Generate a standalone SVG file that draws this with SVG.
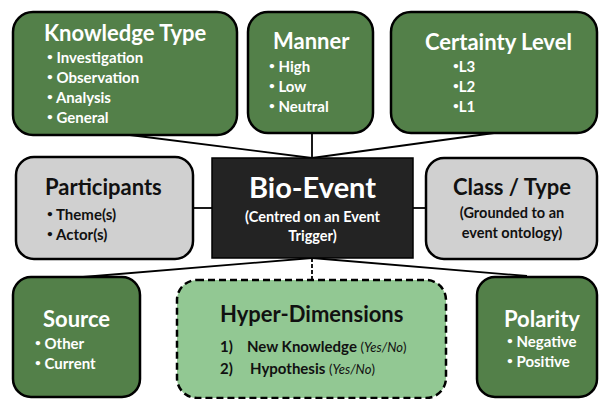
<svg xmlns="http://www.w3.org/2000/svg" width="599" height="399" viewBox="0 0 599 399">
<style>
.dg{fill:#538049;stroke:#000;stroke-width:2.5}
.gr{fill:#d0d0d0;stroke:#000;stroke-width:2.5}
.lg{fill:#92c893;stroke:#000;stroke-width:2.5;stroke-dasharray:7 4}
.bk{fill:#232323;stroke:#000;stroke-width:1.5}
text{font-family:Lato,"Open Sans","Liberation Sans",sans-serif;font-weight:bold}
.w{fill:#fff}
.k{fill:#111}
.t{font-size:22px}
.b{font-size:15px}
.c{font-size:14.5px}
.d{font-size:10px;baseline-shift:3px}
.p{font-size:13px;font-weight:normal}
.i{font-style:italic}
.ln{stroke:#000;stroke-width:1.8;fill:none}
</style>
<g id="connectors">
<line class="ln" x1="130" y1="135" x2="312" y2="158"/>
<line class="ln" x1="312" y1="133" x2="312" y2="158"/>
<line class="ln" x1="494" y1="133" x2="312" y2="158"/>
<line class="ln" x1="193" y1="208" x2="212" y2="208"/>
<line class="ln" x1="413" y1="208" x2="426" y2="208"/>
<line class="ln" x1="312" y1="258" x2="83" y2="277"/>
<line class="ln" x1="312" y1="258" x2="527" y2="276"/>
<line class="ln" x1="312" y1="258" x2="312" y2="280" stroke-dasharray="4 2"/>
</g>
<g id="knowledge-type">
<rect class="dg" x="13" y="12" width="224" height="123" rx="20"/>
<text class="w t" x="44" y="41">Knowledge Type</text>
<text class="w b" x="47" y="63"><tspan class="d">•</tspan> Investigation</text>
<text class="w b" x="47" y="83"><tspan class="d">•</tspan> Observation</text>
<text class="w b" x="47" y="103"><tspan class="d">•</tspan> Analysis</text>
<text class="w b" x="47" y="123"><tspan class="d">•</tspan> General</text>
</g>
<g id="manner">
<rect class="dg" x="248" y="12" width="125" height="121" rx="20"/>
<text class="w t" x="273" y="49">Manner</text>
<text class="w b" x="269" y="72"><tspan class="d">•</tspan> High</text>
<text class="w b" x="269" y="92"><tspan class="d">•</tspan> Low</text>
<text class="w b" x="269" y="112"><tspan class="d">•</tspan> Neutral</text>
</g>
<g id="certainty-level">
<rect class="dg" x="391" y="12" width="206" height="121" rx="20"/>
<text class="w t" x="425" y="50">Certainty Level</text>
<text class="w b" x="453" y="72"><tspan class="d">•</tspan>L3</text>
<text class="w b" x="453" y="92"><tspan class="d">•</tspan>L2</text>
<text class="w b" x="453" y="112"><tspan class="d">•</tspan>L1</text>
</g>
<g id="participants">
<rect class="gr" x="16" y="157" width="177" height="102" rx="18"/>
<text class="k t" x="45" y="195">Participants</text>
<text class="k b" x="47" y="220"><tspan class="d">•</tspan> Theme(s)</text>
<text class="k b" x="47" y="240"><tspan class="d">•</tspan> Actor(s)</text>
</g>
<g id="bio-event">
<rect class="bk" x="212" y="158" width="201" height="100"/>
<text class="w" x="312.5" y="198" text-anchor="middle" font-size="29">Bio-Event</text>
<text class="w c" x="312.5" y="222" text-anchor="middle">(Centred on an Event</text>
<text class="w c" x="312.5" y="241" text-anchor="middle">Trigger)</text>
</g>
<g id="class-type">
<rect class="gr" x="426" y="158" width="171" height="101" rx="18"/>
<text class="k t" x="512" y="195" text-anchor="middle">Class / Type</text>
<text class="k c" x="512" y="218" text-anchor="middle">(Grounded to an</text>
<text class="k c" x="512" y="238" text-anchor="middle">event ontology)</text>
</g>
<g id="source">
<rect class="dg" x="13" y="277" width="127" height="120" rx="18"/>
<text class="w t" x="43" y="327">Source</text>
<text class="w b" x="35" y="349"><tspan class="d">•</tspan> Other</text>
<text class="w b" x="35" y="369"><tspan class="d">•</tspan> Current</text>
</g>
<g id="hyper-dimensions">
<rect class="lg" x="177" y="280" width="269" height="118" rx="20"/>
<text class="k t" x="220" y="322">Hyper-Dimensions</text>
<text class="k b" x="220" y="352">1)<tspan x="247">New Knowledge </tspan><tspan class="p">(<tspan class="i">Yes/No</tspan>)</tspan></text>
<text class="k b" x="220" y="374">2)<tspan x="250">Hypothesis </tspan><tspan class="p">(<tspan class="i">Yes/No</tspan>)</tspan></text>
</g>
<g id="polarity">
<rect class="dg" x="477" y="277" width="120" height="120" rx="18"/>
<text class="w t" x="504" y="327">Polarity</text>
<text class="w b" x="507" y="347"><tspan class="d">•</tspan> Negative</text>
<text class="w b" x="507" y="367"><tspan class="d">•</tspan> Positive</text>
</g>
</svg>
